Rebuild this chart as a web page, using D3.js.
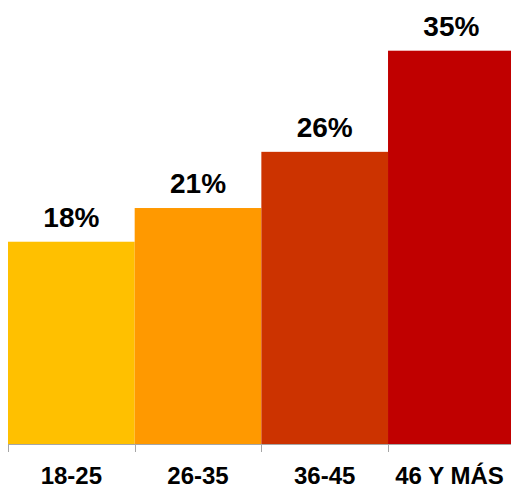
<!DOCTYPE html>
<html><head><meta charset="utf-8">
<script src="https://cdn.jsdelivr.net/npm/d3@7"></script>
<style>html,body{margin:0;padding:0;background:#fff;overflow:hidden}</style>
</head><body>
<svg id="c" width="511" height="488"></svg>
<script>
const categories = ["18-25", "26-35", "36-45", "46 Y MÁS"];
const values = [18, 21, 26, 35];
const valueLabels = ["18%", "21%", "26%", "35%"];
const colors = ["#FFC000", "#FF9900", "#CC3300", "#C00000"];

const svg = d3.select("#c");
const x = d3.scaleBand().domain(categories).range([8, 514.7]).padding(0);
const y = d3.scaleLinear().domain([0, 35]).range([444, 50.7]);
const font = "'Liberation Sans', Arial, sans-serif";

svg.selectAll("rect.bar").data(categories).enter().append("rect")
  .attr("class", "bar")
  .attr("x", d => x(d))
  .attr("width", x.bandwidth())
  .attr("y", (d, i) => y(values[i]))
  .attr("height", (d, i) => y(0) - y(values[i]))
  .attr("fill", (d, i) => colors[i]);

// axis line and ticks
svg.append("line").attr("x1", 8).attr("x2", 511).attr("y1", 444.5).attr("y2", 444.5)
  .attr("stroke", "#a6a6a6").attr("stroke-width", 1);
svg.selectAll("line.tick").data(categories).enter().append("line")
  .attr("class", "tick")
  .attr("x1", d => Math.round(x(d)) + 0.5).attr("x2", d => Math.round(x(d)) + 0.5)
  .attr("y1", 444).attr("y2", 452)
  .attr("stroke", "#a6a6a6").attr("stroke-width", 1);

svg.selectAll("text.val").data(categories).enter().append("text")
  .attr("class", "val")
  .attr("x", d => x(d) + x.bandwidth() / 2)
  .attr("y", (d, i) => y(values[i]) - 15)
  .attr("text-anchor", "middle")
  .attr("font-family", font).attr("font-weight", "bold").attr("font-size", 28)
  .attr("fill", "#000")
  .text((d, i) => valueLabels[i]);

svg.selectAll("text.cat").data(categories).enter().append("text")
  .attr("class", "cat")
  .attr("x", (d, i) => i === 3 ? 449.5 : x(d) + x.bandwidth() / 2)
  .attr("y", 484)
  .attr("text-anchor", "middle")
  .attr("font-family", font).attr("font-weight", "bold").attr("font-size", 24)
  .attr("fill", "#000")
  .text(d => d);
</script>
</body></html>
